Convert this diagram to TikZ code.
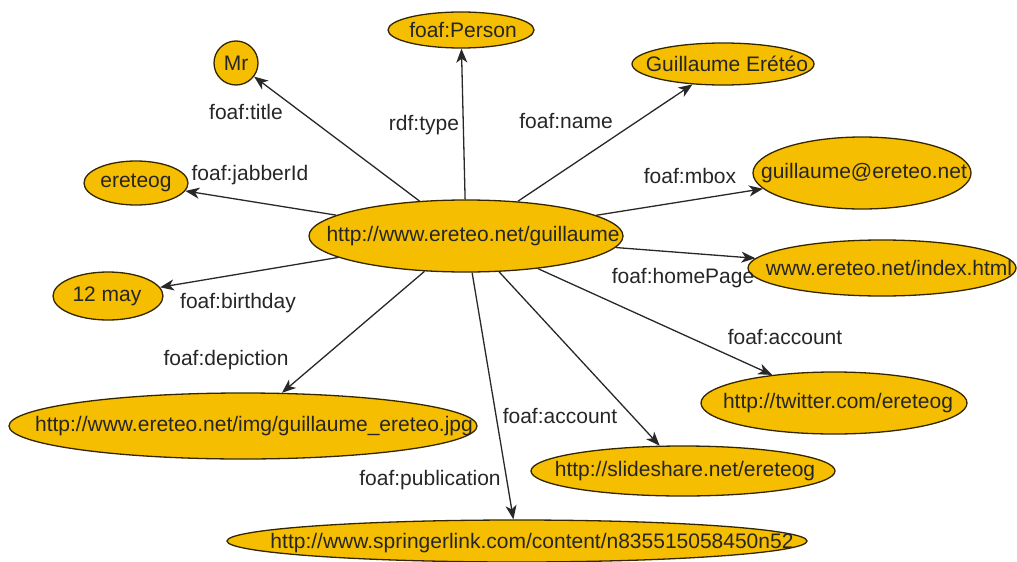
\documentclass[tikz,border=0pt]{standalone}
\usepackage{fontspec}
\setmainfont{Liberation Sans}
\usetikzlibrary{shapes.geometric,arrows.meta}
\definecolor{nodefill}{RGB}{246,190,0}
\definecolor{nodeline}{RGB}{51,38,0}
\definecolor{edgecol}{RGB}{40,40,40}
\tikzset{
  res/.style={ellipse,draw=nodeline,fill=nodefill,line width=1.3pt,inner sep=0pt},
  txt/.style={inner sep=0pt,font=\fontsize{21}{25}\selectfont,text=black!85},
  lbl/.style={inner sep=0pt,font=\fontsize{21}{25}\selectfont,text=black!85},
  arr/.style={draw=edgecol,line width=1.3pt,-{Stealth[length=14pt,width=11pt,inset=4pt]}}
}
\begin{document}
\begin{tikzpicture}[x=1pt,y=-1pt]
\useasboundingbox (0,0) rectangle (1017,562);
% resources
\node[res,minimum width=314pt,minimum height=72pt] (c) at (466,236) {};
\node[res,minimum width=44pt,minimum height=44pt] (mr) at (236,63) {};
\node[res,minimum width=146pt,minimum height=36pt] (person) at (461,30) {};
\node[res,minimum width=182pt,minimum height=42pt] (name) at (723,64) {};
\node[res,minimum width=104pt,minimum height=44pt] (jab) at (136,183) {};
\node[res,minimum width=218pt,minimum height=72pt] (mbox) at (862,173) {};
\node[res,minimum width=268pt,minimum height=56pt] (home) at (882,268) {};
\node[res,minimum width=110pt,minimum height=48pt] (bday) at (108,296) {};
\node[res,minimum width=266pt,minimum height=62pt] (tw) at (834,403) {};
\node[res,minimum width=468pt,minimum height=66pt] (dep) at (243,426) {};
\node[res,minimum width=304pt,minimum height=50pt] (ss) at (683,471) {};
\node[res,minimum width=580pt,minimum height=42pt] (spr) at (517,541) {};
% texts
\node[txt] (tc) at (473,236) {http://www.ereteo.net/guillaume};
\node[txt] (tmr) at (236,63) {Mr};
\node[txt] (tperson) at (463,30) {foaf:Person};
\node[txt] (tname) at (727,64) {Guillaume Erétéo};
\node[txt] (tjab) at (136,183) {ereteog};
\node[txt] (tmbox) at (864,173) {guillaume@ereteo.net};
\node[txt] (thome) at (889,268) {www.ereteo.net/index.html};
\node[txt] (tbday) at (107,296) {12 may};
\node[txt] (ttw) at (838,403) {http://twitter.com/ereteog};
\node[txt] (tdep) at (254,426) {http://www.ereteo.net/img/guillaume\_ereteo.jpg};
\node[txt] (tss) at (685,471) {http://slideshare.net/ereteog};
\node[txt] (tspr) at (532,543) {http://www.springerlink.com/content/n835515058450n52};
% edges
\draw[arr] (c) -- (mr);
\draw[arr] (c) -- (person);
\draw[arr] (c) -- (name);
\draw[arr] (c) -- (jab);
\draw[arr] (c) -- (mbox);
\draw[arr] (c) -- (home);
\draw[arr] (c) -- (bday);
\draw[arr] (c) -- (tw);
\draw[arr] (c) -- (dep);
\draw[arr] (c) -- (ss);
\draw[arr] (c) -- (spr);
% edge labels
\node[lbl] (l1) at (246,112) {foaf:title};
\node[lbl] (l2) at (424,125) {rdf:type};
\node[lbl] (l3) at (566,121) {foaf:name};
\node[lbl] (l4) at (250,175) {foaf:jabberId};
\node[lbl] (l5) at (690,176) {foaf:mbox};
\node[lbl] (l6) at (683,278) {foaf:homePage};
\node[lbl] (l7) at (238,303) {foaf:birthday};
\node[lbl] (l8) at (785,337) {foaf:account};
\node[lbl] (l9) at (226,360) {foaf:depiction};
\node[lbl] (l10) at (560,416) {foaf:account};
\node[lbl] (l11) at (430,480) {foaf:publication};
\end{tikzpicture}
\end{document}
